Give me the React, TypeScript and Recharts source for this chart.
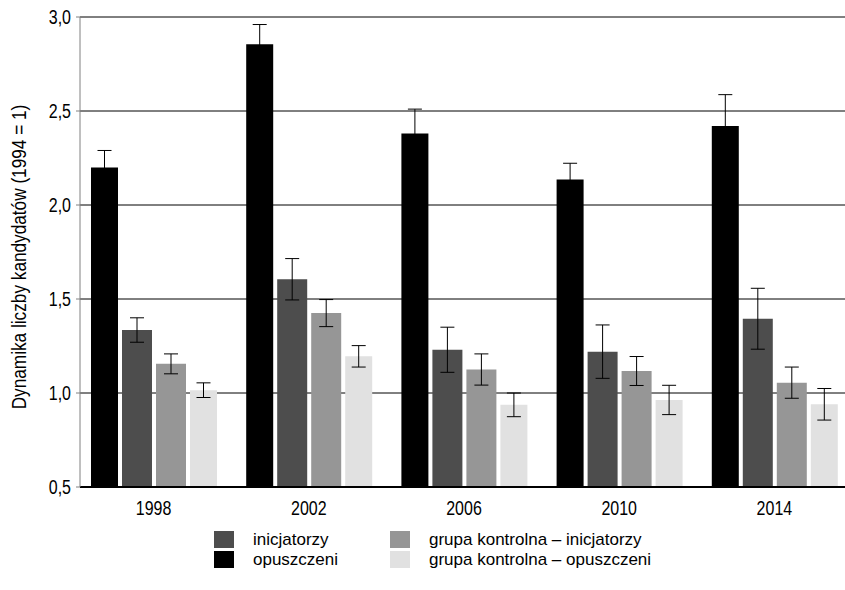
import { Bar, BarChart, CartesianGrid, ErrorBar, XAxis, YAxis } from "recharts";

const years = ["1998", "2002", "2006", "2010", "2014"];

const opuszczeni = [2.2, 2.855, 2.38, 2.135, 2.42];
const opuszczeniErr = [0.09, 0.105, 0.13, 0.087, 0.167];

const inicjatorzy = [1.335, 1.605, 1.23, 1.22, 1.395];
const inicjatorzyErr = [0.065, 0.11, 0.12, 0.142, 0.162];

const kontrolnaInicjatorzy = [1.155, 1.425, 1.125, 1.117, 1.055];
const kontrolnaInicjatorzyErr = [0.053, 0.072, 0.083, 0.077, 0.083];

const kontrolnaOpuszczeni = [1.015, 1.195, 0.937, 0.963, 0.94];
const kontrolnaOpuszczeniErr = [0.039, 0.057, 0.063, 0.078, 0.084];

const yTicks = [0.5, 1.0, 1.5, 2.0, 2.5, 3.0];

const data = years.map((year, i) => ({
  year,
  opuszczeni: opuszczeni[i],
  opuszczeniErr: opuszczeniErr[i],
  inicjatorzy: inicjatorzy[i],
  inicjatorzyErr: inicjatorzyErr[i],
  kInic: kontrolnaInicjatorzy[i],
  kInicErr: kontrolnaInicjatorzyErr[i],
  kOpu: kontrolnaOpuszczeni[i],
  kOpuErr: kontrolnaOpuszczeniErr[i],
}));

const font = '"Liberation Sans", Arial, sans-serif';
// the original uses a condensed face; squeeze the regular one horizontally
const squeeze = 0.82;

const colors = {
  opuszczeni: "#000000",
  inicjatorzy: "#4d4d4d",
  kInic: "#969696",
  kOpu: "#e1e1e1",
};

const legendItems = [
  { label: "inicjatorzy", color: colors.inicjatorzy },
  { label: "grupa kontrolna – inicjatorzy", color: colors.kInic },
  { label: "opuszczeni", color: colors.opuszczeni },
  { label: "grupa kontrolna – opuszczeni", color: colors.kOpu },
];

const fmt = (v: number) => v.toFixed(1).replace(".", ",");

const XTick = (props: any) => (
  <g transform={`translate(${props.x},${props.y}) scale(${squeeze},1)`}>
    <text x={0} y={0} dy="0.71em" textAnchor="middle" fontSize={19.5} fontFamily={font} fill="#000">
      {props.payload.value}
    </text>
  </g>
);

const YTick = (props: any) => (
  <g transform={`translate(${props.x},${props.y}) scale(${squeeze},1)`}>
    <text x={0} y={0} dy="0.355em" textAnchor="end" fontSize={19.5} fontFamily={font} fill="#000">
      {fmt(props.payload.value)}
    </text>
  </g>
);

const YLabel = () => (
  <g transform={`translate(19,257) rotate(-90) scale(${squeeze},1)`}>
    <text x={0} y={0} textAnchor="middle" dominantBaseline="central" fontSize={21} fontFamily={font} fill="#000">
      Dynamika liczby kandydatów (1994 = 1)
    </text>
  </g>
);

export default function App() {
  return (
    <div style={{ position: "relative", width: 845, height: 590, background: "#fff", fontFamily: font }}>
      <style>{`body{margin:0}`}</style>
      <BarChart
        width={845}
        height={590}
        data={data}
        margin={{ top: 17, right: 0, left: 0, bottom: 73 }}
        barGap={4}
      >
        <CartesianGrid vertical={false} stroke="#000" strokeWidth={1} />
        <XAxis
          dataKey="year"
          height={30}
          tickLine={false}
          axisLine={{ stroke: "#000", strokeWidth: 2 }}
          tickSize={0}
          tickMargin={14}
          padding={{ left: -4, right: -7 }}
          tick={<XTick />}
        />
        <YAxis
          width={80}
          domain={[0.5, 3]}
          ticks={yTicks}
          allowDataOverflow
          axisLine={{ stroke: "#808080", strokeWidth: 1 }}
          tickLine={{ stroke: "#808080" }}
          tickSize={4}
          tickMargin={5}
          tick={<YTick />}
          label={<YLabel />}
        />
        <Bar dataKey="opuszczeni" fill={colors.opuszczeni} barSize={27} isAnimationActive={false}>
          <ErrorBar dataKey="opuszczeniErr" width={7} stroke="#000" strokeWidth={1} />
        </Bar>
        <Bar dataKey="inicjatorzy" fill={colors.inicjatorzy} barSize={30} isAnimationActive={false}>
          <ErrorBar dataKey="inicjatorzyErr" width={7} stroke="#000" strokeWidth={1} />
        </Bar>
        <Bar dataKey="kInic" fill={colors.kInic} barSize={30} isAnimationActive={false}>
          <ErrorBar dataKey="kInicErr" width={7} stroke="#000" strokeWidth={1} />
        </Bar>
        <Bar dataKey="kOpu" fill={colors.kOpu} barSize={27} isAnimationActive={false}>
          <ErrorBar dataKey="kOpuErr" width={7} stroke="#000" strokeWidth={1} />
        </Bar>
      </BarChart>

      <div
        style={{
          position: "absolute",
          left: 214,
          top: 531,
          display: "grid",
          gridTemplateColumns: "176px auto",
          rowGap: 3,
          fontSize: 17,
          lineHeight: "17px",
          color: "#000",
        }}
      >
        {legendItems.map((item) => (
          <div key={item.label} style={{ display: "flex", alignItems: "center", whiteSpace: "nowrap" }}>
            <span style={{ flex: "none", width: 20, height: 17, background: item.color, marginRight: 19, display: "inline-block" }} />
            <span>{item.label}</span>
          </div>
        ))}
      </div>
    </div>
  );
}
